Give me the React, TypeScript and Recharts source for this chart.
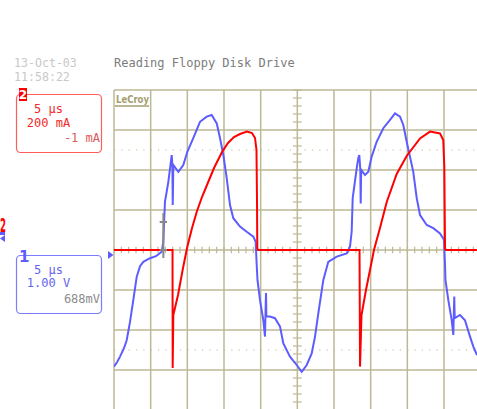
import React from 'react';
import { ComposedChart, Line, XAxis, YAxis, ReferenceLine } from 'recharts';

// Channel 2 (red): current in mA, 200 mA/div, time in µs (5 µs/div)
const redTime = [
  -25, -17.02, -17.0, -16.91, -16.27, -15.59, -15.04, -14.36, -13.68, -13.0,
  -12.32, -11.36, -10.27, -9.45, -8.64, -7.82, -6.86, -6.18, -5.77, -5.57,
  -5.5, -5.46, -5.36, 8.48, 8.55, 8.75, 9.36, 9.91, 10.45, 11.27,
  12.19, 13.55, 14.91, 16.73, 18.09, 19.45, 19.9, 20.04, 20.14, 20.27,
  24.5,
];
const redCurrent = [
  0, 0, -590, -325, -225, -90, 10, 110, 195, 265,
  325, 410, 490, 535, 565, 580, 592, 585, 560, 500,
  250, 10, 0, 0, -583, -325, -200, -100, 0, 110,
  240, 380, 470, 558, 592, 583, 550, 417, 8, 0,
  0,
];

// Channel 1 (blue): voltage in V, 1 V/div
const blueTime = [
  -25.0, -24.59, -24.18, -23.64, -23.27, -22.82, -22.37, -21.9, -21.45, -21.0,
  -20.09, -19.27, -18.5, -18.28, -18.05, -17.59, -17.13, -17.04, -16.99, -16.91,
  -16.23, -15.55, -15.0, -14.19, -13.27, -12.36, -11.68, -10.99, -10.54, -10.09,
  -9.63, -9.18, -8.73, -7.82, -6.9, -6.0, -5.68, -5.54, -5.43, -5.09,
  -4.64, -4.41, -4.33, -4.27, -4.22, -3.73, -3.05, -2.36, -1.91, -1.0,
  -0.09, 0.6, 1.28, 1.96, 2.41, 2.86, 3.54, 4.22, 5.37, 6.73,
  7.18, 7.41, 7.55, 8.1, 8.31, 8.45, 8.59, 8.64, 8.71, 9.23,
  9.68, 10.14, 10.82, 11.72, 12.64, 13.32, 14.0, 14.45, 14.91, 15.36,
  15.81, 16.28, 16.73, 17.64, 18.54, 19.45, 20.0, 20.14, 20.2, 20.59,
  21.05, 21.27, 21.35, 21.4, 21.46, 22.18, 22.86, 23.55, 24.0, 24.5,
];
const blueVoltage = [
  -2.84, -2.73, -2.59, -2.38, -2.18, -1.73, -1.18, -0.59, -0.33, -0.22,
  -0.13, -0.08, 0.03, 0.28, 1.28, 1.78, 2.45, 2.2, 1.2, 2.2,
  2.03, 2.2, 2.53, 2.87, 3.28, 3.41, 3.45, 3.24, 2.87, 2.45,
  1.87, 1.2, 0.87, 0.66, 0.53, 0.41, 0.28, -0.3, -0.68, -1.18,
  -1.68, -2.09, -1.43, -1.0, -1.59, -1.59, -1.63, -1.84, -2.26, -2.59,
  -2.8, -2.97, -2.8, -2.51, -2.09, -1.51, -0.68, -0.22, -0.09, -0.01,
  0.16, 0.53, 1.37, 2.12, 2.37, 2.45, 2.08, 1.24, 2.08, 1.95,
  2.03, 2.41, 2.78, 3.12, 3.33, 3.49, 3.41, 3.2, 2.78, 2.41,
  2.03, 1.37, 0.95, 0.7, 0.62, 0.49, 0.33, -0.3, -0.68, -1.18,
  -1.68, -2.05, -1.43, -1.09, -1.63, -1.55, -1.68, -2.09, -2.34, -2.55,
];

// graticule (time in µs, current in mA)
const gridTimes = [-25, -20, -15, -10, -5, 0, 5, 10, 15, 20];
const gridCurrents = [800, 600, 400, 200, 0, -200, -400, -600];
const dottedCurrents = [500, -500];
const minorTimes = Array.from({ length: 50 }, (_, i) => -25 + i);
const minorCurrents = Array.from({ length: 41 }, (_, i) => -800 + i * 40);
const cursorTime = -18.27;

const W = 477;
const H = 409;
const GRID = '#bdb994';
const RED = '#ff0000';
const BLUE = '#5c5cff';
const MONO = '"DejaVu Sans Mono", monospace';

export default function App() {
  const redData = redTime.map((t, i) => ({ t, ma: redCurrent[i] }));
  const blueData = blueTime.map((t, i) => ({ t, v: blueVoltage[i] }));
  return (
    <div style={{ position: 'absolute', left: 0, top: 0, width: W, height: H, background: '#fff', overflow: 'hidden' }}>
      <ComposedChart width={W} height={H} margin={{ top: 90, right: 0, bottom: 0, left: 114 }}>
        <XAxis type="number" dataKey="t" domain={[-25, 24.5]} hide allowDataOverflow />
        <YAxis yAxisId="ma" type="number" domain={[-795, 800]} hide allowDataOverflow />
        <YAxis yAxisId="v" type="number" domain={[-3.9, 4.075]} hide allowDataOverflow />
        {gridTimes.map((t) => (
          <ReferenceLine key={'gx' + t} yAxisId="ma" x={t} stroke={GRID} strokeWidth={1.5} />
        ))}
        {gridCurrents.map((c) => (
          <ReferenceLine key={'gy' + c} yAxisId="ma" y={c} stroke={GRID} strokeWidth={1.5} />
        ))}
        {dottedCurrents.map((c) => (
          <ReferenceLine key={'dy' + c} yAxisId="ma" y={c} stroke={GRID} strokeWidth={1.2} strokeDasharray="1.2 6.13" />
        ))}
        {minorTimes.map((t) => (
          <ReferenceLine key={'mt' + t} yAxisId="ma" segment={[{ x: t, y: -16 }, { x: t, y: 16 }]} stroke={GRID} strokeWidth={1.2} />
        ))}
        {minorCurrents.map((c) => (
          <ReferenceLine key={'mc' + c} yAxisId="ma" segment={[{ x: -0.6, y: c }, { x: 0.6, y: c }]} stroke={GRID} strokeWidth={1.2} />
        ))}
        <Line yAxisId="v" data={blueData} dataKey="v" type="linear" stroke={BLUE} strokeWidth={2} dot={false} isAnimationActive={false} />
        <Line yAxisId="ma" data={redData} dataKey="ma" type="linear" stroke={RED} strokeWidth={2} dot={false} isAnimationActive={false} />
        <ReferenceLine yAxisId="ma" segment={[{ x: cursorTime, y: 185 }, { x: cursorTime, y: -40 }]} stroke="#888" strokeWidth={2} />
        <ReferenceLine yAxisId="ma" segment={[{ x: cursorTime - 0.5, y: 140 }, { x: cursorTime + 0.5, y: 140 }]} stroke="#888" strokeWidth={2} />
        <ReferenceLine yAxisId="ma" segment={[{ x: cursorTime - 0.5, y: 0 }, { x: cursorTime + 0.5, y: 0 }]} stroke="#888" strokeWidth={2} />
      </ComposedChart>
      <svg width={W} height={H} style={{ position: 'absolute', left: 0, top: 0, pointerEvents: 'none' }}>
        <text x={14} y={67} fontFamily={MONO} fontSize={11.6} fill="#c8c8c8">13-Oct-03</text>
        <text x={14} y={81} fontFamily={MONO} fontSize={11.6} fill="#c8c8c8">11:58:22</text>
        <text x={114} y={67} fontFamily={MONO} fontSize={12} fill="#7c7c7c">Reading Floppy Disk Drive</text>

        <text x={116} y={103} fontFamily='"DejaVu Sans Condensed", "DejaVu Sans", sans-serif' fontWeight="bold" fontSize={11} fill="#a59e70" textLength={33} lengthAdjust="spacingAndGlyphs">LeCroy</text>
        <line x1={115} y1={106} x2={149} y2={106} stroke="#a59e70" strokeWidth={1.3} />

        <rect x={16.5} y={94.5} width={85} height={58} rx={4} fill="none" stroke="#ff5c5c" strokeWidth={1.2} />
        <rect x={19} y={88} width={8} height={13} fill={RED} />
        <text x={23} y={99} textAnchor="middle" fontFamily='"DejaVu Sans", sans-serif' fontWeight="bold" fontSize={12} fill="#fff">2</text>
        <text x={48.5} y={113} textAnchor="middle" fontFamily={MONO} fontSize={12} fill="#f02a2a">5 μs</text>
        <text x={48.5} y={127} textAnchor="middle" fontFamily={MONO} fontSize={12} fill="#f02a2a">200 mA</text>
        <text x={100} y={142} textAnchor="end" fontFamily={MONO} fontSize={12} fill="#d85a5a">-1 mA</text>

        <rect x={16.5} y={255.5} width={85} height={58} rx={4} fill="none" stroke="#7c7cff" strokeWidth={1.2} />
        <text x={19} y={262} fontFamily='"DejaVu Sans", sans-serif' fontWeight="bold" fontSize={15} fill={BLUE}>1</text>
        <text x={48.5} y={274} textAnchor="middle" fontFamily={MONO} fontSize={12} fill="#6464f0">5 μs</text>
        <text x={48.5} y={287} textAnchor="middle" fontFamily={MONO} fontSize={12} fill="#6464f0">1.00 V</text>
        <text x={100} y={303} textAnchor="end" fontFamily={MONO} fontSize={12} fill="#8c8c8c">688mV</text>

        <text x={0} y={232} fontFamily='"DejaVu Sans", sans-serif' fontWeight="bold" fontSize={19} fill={RED} textLength={6} lengthAdjust="spacingAndGlyphs">2</text>
        <rect x={0} y={232} width={5} height={3} fill={BLUE} />
        <polygon points="0,238.5 5,235 5,242" fill={BLUE} />
        <polygon points="108,251 113.5,255 108,259" fill={BLUE} />
      </svg>
    </div>
  );
}
